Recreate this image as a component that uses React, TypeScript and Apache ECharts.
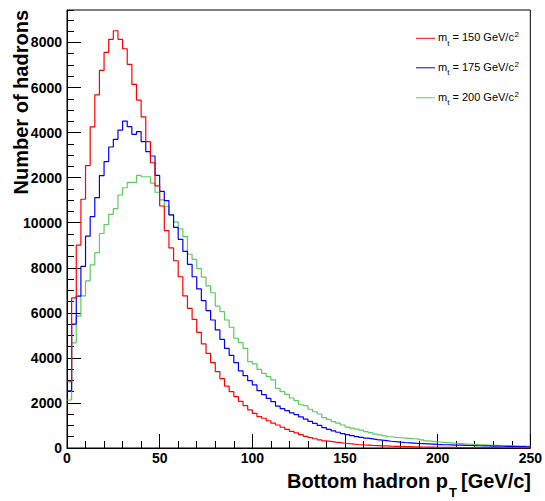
import React, { useEffect, useRef } from "react";
import * as echarts from "echarts";

// ---------- data ----------
const BIN_WIDTH = 2.5; // GeV/c
const X_MIN = 0;
const X_MAX = 250;
const Y_MAX = 19440;
const xTickLabels = ["0", "50", "100", "150", "200", "250"];

const mt150 = [
  2940, 6660, 9000, 11040, 12530, 14250, 15670, 16760, 17560, 18140,
  18520, 18140, 17720, 17030, 16140, 15440, 14700, 13600, 12660, 11630,
  10740, 9650, 8880, 8310, 7600, 6750, 6200, 5710, 5130, 4620,
  4200, 3790, 3390, 3080, 2750, 2500, 2280, 2070, 1880, 1690,
  1540, 1390, 1320, 1210, 1100, 1020, 920, 830, 740, 670,
  590, 520, 460, 410, 365, 320, 290, 260, 235, 210,
  190, 172, 156, 142, 130, 118, 108, 98, 90, 82,
  75, 68, 62, 57, 52, 48, 44, 40, 37, 34,
  31, 29, 27, 25, 23, 21, 20, 18, 17, 16,
  15, 14, 13, 12, 11, 10, 10, 9, 8, 8,
];

const mt175 = [
  2540, 5500, 6740, 8060, 9400, 10270, 11110, 12090, 12710, 13360,
  13700, 14110, 14510, 14260, 13920, 14040, 13600, 13150, 12960, 12100,
  11390, 10980, 10350, 9790, 9260, 8730, 8150, 7600, 7060, 6540,
  6100, 5680, 5240, 4820, 4420, 4110, 3790, 3420, 3210, 2990,
  2800, 2550, 2370, 2200, 2060, 1860, 1750, 1660, 1560, 1480,
  1380, 1280, 1180, 1090, 1000, 900, 830, 760, 700, 640,
  590, 545, 505, 470, 435, 405, 375, 350, 325, 300,
  280, 262, 245, 230, 215, 200, 190, 180, 170, 160,
  152, 145, 138, 130, 124, 118, 112, 106, 100, 95,
  90, 86, 82, 78, 74, 70, 66, 62, 58, 55,
];

const mt200 = [
  2130, 4670, 5850, 6750, 7420, 8130, 8670, 9520, 9920, 10370,
  10620, 11230, 11550, 11790, 11790, 12100, 12040, 12040, 11760, 11350,
  11010, 10730, 10350, 10040, 9730, 9380, 8600, 8370, 7960, 7580,
  7200, 6890, 6300, 6050, 5680, 5360, 4870, 4680, 4420, 3830,
  3730, 3490, 3310, 3170, 3020, 2650, 2500, 2380, 2220, 2100,
  1920, 1880, 1720, 1610, 1510, 1350, 1270, 1170, 1100, 1020,
  930, 880, 840, 790, 730, 680, 620, 580, 540, 500,
  470, 455, 440, 425, 410, 395, 360, 320, 290, 270,
  255, 240, 225, 210, 195, 180, 175, 165, 150, 140,
  130, 120, 115, 110, 100, 95, 90, 85, 80, 75,
];

const massLabels = ["150", "175", "200"];

// ---------- helpers ----------
const FONT = '"Liberation Sans", Arial, Helvetica, sans-serif';

function toSteps(values: number[]) {
  const pts: number[][] = values.map((v, i) => [X_MIN + i * BIN_WIDTH, v]);
  pts.push([X_MIN + values.length * BIN_WIDTH, values[values.length - 1]]);
  return pts;
}

export default function App() {
  const ref = useRef<HTMLDivElement>(null);

  useEffect(() => {
    if (!ref.current) return;
    const chart = echarts.init(ref.current, undefined, { renderer: "svg" });

    const cv = document.createElement("canvas").getContext("2d")!;
    const measure = (s: string, size: number, weight = "bold") => {
      cv.font = `${weight} ${size}px ${FONT}`;
      return cv.measureText(s).width;
    };

    const colors = ["#ff0000", "#0000ff", "#5ccc5c"];
    const seriesData = [mt150, mt175, mt200];

    // x-axis title pieces
    const right = 531;
    const cW = measure("[GeV/c]", 20);
    const tW = measure("T", 13);
    const tRight = right - cW - 4;
    const aRight = tRight - tW - 1;

    const graphics: any[] = [
      {
        type: "text",
        x: aRight,
        y: 481,
        style: { text: "Bottom hadron p", fontSize: 20, fontWeight: "bold", fontFamily: FONT, fill: "#000", align: "right", verticalAlign: "middle" },
      },
      {
        type: "text",
        x: tRight,
        y: 492,
        style: { text: "T", fontSize: 13, fontWeight: "bold", fontFamily: FONT, fill: "#000", align: "right", verticalAlign: "middle" },
      },
      {
        type: "text",
        x: right,
        y: 481,
        style: { text: "[GeV/c]", fontSize: 20, fontWeight: "bold", fontFamily: FONT, fill: "#000", align: "right", verticalAlign: "middle" },
      },
      {
        type: "text",
        x: 20.5,
        y: 10,
        rotation: Math.PI / 2,
        style: { text: "Number of hadrons", fontSize: 20, fontWeight: "bold", fontFamily: FONT, fill: "#000", align: "right", verticalAlign: "middle" },
      },
    ];

    // legend
    const legendY = [37, 66.5, 96.5];
    const mW = measure("m", 11, "normal");
    const subW = measure("t", 8, "normal");
    massLabels.forEach((m, i) => {
      const y = legendY[i];
      const body = ` = ${m} GeV/c`;
      const bW = measure(body, 11, "normal");
      const x0 = 438;
      graphics.push(
        { type: "line", shape: { x1: 416, y1: y + 1.3, x2: 435, y2: y + 1.3 }, style: { stroke: colors[i], lineWidth: 1 } },
        { type: "text", x: x0, y, style: { text: "m", fontSize: 11, fontFamily: FONT, fill: "#000", align: "left", verticalAlign: "middle" } },
        { type: "text", x: x0 + mW, y: y + 6, style: { text: "t", fontSize: 8, fontFamily: FONT, fill: "#000", align: "left", verticalAlign: "middle" } },
        { type: "text", x: x0 + mW + subW, y, style: { text: body, fontSize: 11, fontFamily: FONT, fill: "#000", align: "left", verticalAlign: "middle" } },
        { type: "text", x: x0 + mW + subW + bW + 0.5, y: y - 2.5, style: { text: "2", fontSize: 8, fontFamily: FONT, fill: "#000", align: "left", verticalAlign: "middle" } }
      );
    });

    const labelStyle = { fontSize: 14, fontWeight: "bold" as const, fontFamily: FONT, color: "#000" };

    chart.setOption({
      animation: false,
      backgroundColor: "#fff",
      grid: { left: 67, top: 10, width: 466, height: 438, show: true, borderColor: "#000", borderWidth: 1, backgroundColor: "transparent" },
      xAxis: {
        type: "value",
        min: X_MIN,
        max: X_MAX,
        interval: 50,
        axisLine: { show: true, lineStyle: { color: "#000", width: 1 } },
        axisTick: { show: true, inside: true, length: 14, lineStyle: { color: "#000" } },
        minorTick: { show: true, splitNumber: 5, length: 7, lineStyle: { color: "#000" } },
        splitLine: { show: false },
        axisLabel: {
          ...labelStyle,
          margin: 3,
          formatter: (v: number) => xTickLabels[Math.round(v / 50)] ?? String(v),
        },
      },
      yAxis: [
        {
          type: "value",
          position: "left",
          min: 0,
          max: Y_MAX,
          interval: 2000,
          axisLine: { show: true, lineStyle: { color: "#000", width: 1 } },
          axisTick: { show: true, inside: true, length: 14, lineStyle: { color: "#000" } },
          splitLine: { show: false },
          axisLabel: {
            ...labelStyle,
            margin: 5,
            showMaxLabel: false,
            formatter: (v: number) => (v > 10000 ? String(v - 10000) : String(v)),
          },
        },
        {
          type: "value",
          position: "left",
          min: 0,
          max: Y_MAX,
          interval: 500,
          axisLine: { show: false },
          axisTick: { show: true, inside: true, length: 7, lineStyle: { color: "#000" } },
          splitLine: { show: false },
          axisLabel: { show: false },
        },
      ],
      series: seriesData.map((d, i) => ({
        type: "line",
        name: `m_t = ${massLabels[i]} GeV/c^2`,
        step: "end",
        data: toSteps(d),
        yAxisIndex: 0,
        showSymbol: false,
        symbol: "none",
        lineStyle: { color: colors[i], width: 1.2 },
        itemStyle: { color: colors[i] },
        z: 3 - i,
      })),
      graphic: graphics,
    });

    return () => chart.dispose();
  }, []);

  return (
    <div
      ref={ref}
      style={{ position: "fixed", left: 0, top: 0, width: 545, height: 501, background: "#fff" }}
    />
  );
}
